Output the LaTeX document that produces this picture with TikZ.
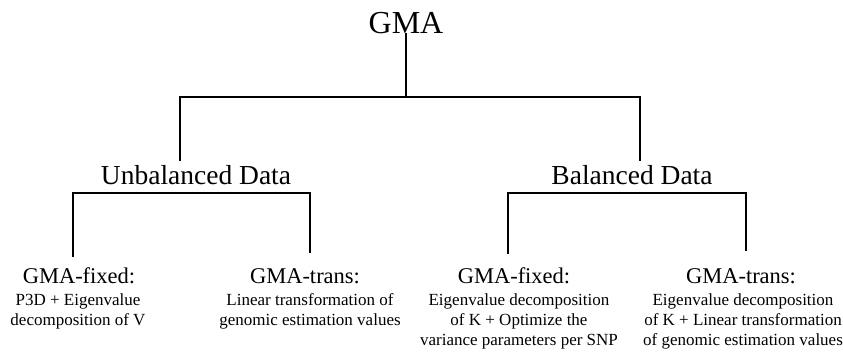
\documentclass[tikz,border=0pt]{standalone}
\usepackage{fontspec}
\setmainfont{Liberation Serif}
\begin{document}
\begin{tikzpicture}[x=1pt,y=-1pt,
  lbl/.style={inner sep=0pt, anchor=base},
  top/.style={lbl, font=\fontsize{32}{36}\selectfont},
  mid/.style={lbl, font=\fontsize{27.5}{32}\selectfont},
  meth/.style={lbl, font=\fontsize{22.5}{26}\selectfont},
  desc/.style={inner sep=0pt, anchor=north, align=center, font=\fontsize{17}{20}\selectfont},
  conn/.style={line width=2.3pt, line cap=rect}]
\useasboundingbox[fill=white] (0,0) rectangle (843,356);
% titles
\node[top] (gma) at (406,33) {GMA};
\node[mid] (unb) at (196,184) {Unbalanced Data};
\node[mid] (bal) at (632,184) {Balanced Data};
\node[meth] (uf) at (79,283) {GMA-fixed:};
\node[meth] (ut) at (305,283) {GMA-trans:};
\node[meth] (bf) at (514,283) {GMA-fixed:};
\node[meth] (bt) at (741,283) {GMA-trans:};
\node[desc] (ufd) at (78,293.5) {P3D + Eigenvalue\\decomposition of V};
\node[desc] (utd) at (310,293.5) {Linear transformation of\\genomic estimation values};
\node[desc] (bfd) at (519,293.5) {Eigenvalue decomposition\\of K + Optimize the\\variance parameters per SNP};
\node[desc] (btd) at (743,293.5) {Eigenvalue decomposition\\of K + Linear transformation\\of genomic estimation values};
% junction coordinates
\coordinate (j0) at (406,97);
\coordinate (jl) at (180,97);
\coordinate (jr) at (640,97);
\coordinate (el) at (180,160);
\coordinate (er) at (640,160);
\coordinate (ul) at (73,193);
\coordinate (ur) at (310,193);
\coordinate (ule) at (73,256);
\coordinate (ure) at (310,252);
\coordinate (bl) at (508,193);
\coordinate (br) at (746,193);
\coordinate (ble) at (508,253);
\coordinate (bre) at (746,250);
% connectors
\draw[conn, line width=2pt] (gma.south) -- (j0);
\draw[conn, line width=2pt] (jl) -- (jr);
\draw[conn] (jl) -- (el);
\draw[conn] (jr) -- (er);
\draw[conn] (ule) -- (ul) -- (ur) -- (ure);
\draw[conn] (ble) -- (bl) -- (br) -- (bre);
\end{tikzpicture}
\end{document}
